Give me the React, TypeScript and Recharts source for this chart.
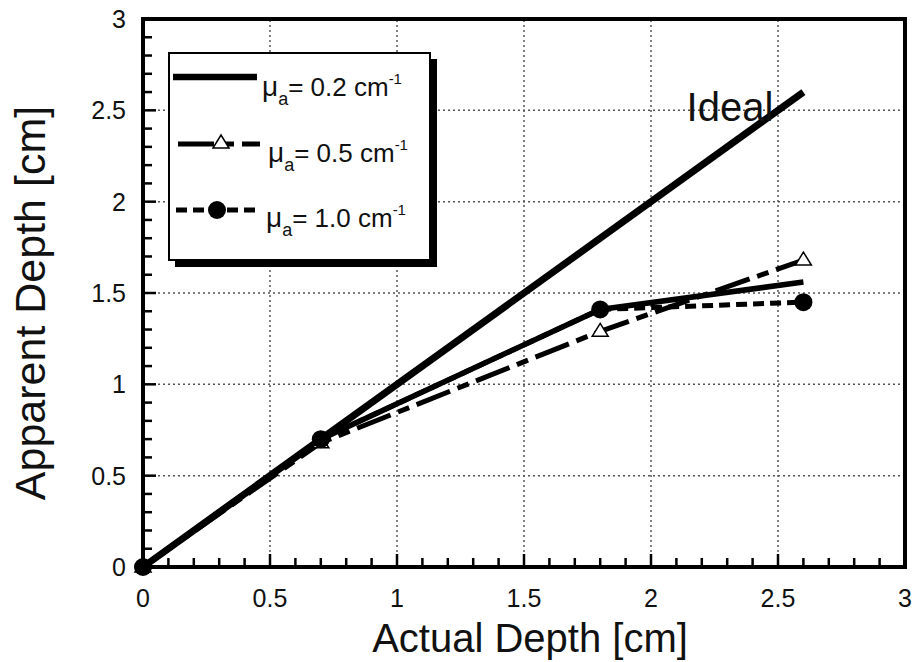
import { LineChart, Line, XAxis, YAxis, ReferenceLine, ReferenceDot, Legend, Label } from 'recharts';

const FONT = '"Liberation Sans", Arial, Helvetica, sans-serif';

// tick values (every 0.1 minor, labels on the 0.5 steps)
const minorTicks = [0, 0.1, 0.2, 0.3, 0.4, 0.5, 0.6, 0.7, 0.8, 0.9, 1, 1.1, 1.2, 1.3, 1.4, 1.5,
  1.6, 1.7, 1.8, 1.9, 2, 2.1, 2.2, 2.3, 2.4, 2.5, 2.6, 2.7, 2.8, 2.9, 3];
const majorTicks = [0, 0.5, 1, 1.5, 2, 2.5, 3];
const gridValues = [0.5, 1, 1.5, 2, 2.5];

// data
const idealX = [0, 2.6];
const idealY = [0, 2.6];
const actualDepth = [0, 0.7, 1.8, 2.6];
const apparent02 = [0, 0.7, 1.41, 1.56];
const apparent05 = [0, 0.68, 1.29, 1.68];
const apparent10 = [0, 0.7, 1.41, 1.45];

const zip = (xs: number[], ys: number[]) => xs.map((x, i) => ({ x, y: ys[i] }));
const idealData = zip(idealX, idealY);
const data02 = zip(actualDepth, apparent02);
const data05 = zip(actualDepth, apparent05);
const data10 = zip(actualDepth, apparent10);

const DASH_05 = '36 8 12 8';
const DASH_10 = '11 6';

const isMajor = (v: number) => majorTicks.some((m) => Math.abs(m - v) < 1e-6);

const BottomTick = (p: any) => {
  const v = p.payload.value;
  const major = isMajor(v);
  return (
    <g>
      <line x1={p.x} y1={p.y} x2={p.x} y2={p.y - (major ? 13 : 9)} stroke="#000" strokeWidth={2.5} />
      {major && (
        <text x={p.x} y={p.y + 40} textAnchor="middle" fontSize={25} fontFamily={FONT} fill="#111">
          {String(v)}
        </text>
      )}
    </g>
  );
};

const TopTick = (p: any) => {
  const major = isMajor(p.payload.value);
  return <line x1={p.x} y1={p.y} x2={p.x} y2={p.y + (major ? 13 : 9)} stroke="#000" strokeWidth={2.5} />;
};

const LeftTick = (p: any) => {
  const v = p.payload.value;
  const major = isMajor(v);
  return (
    <g>
      <line x1={p.x} y1={p.y} x2={p.x + (major ? 13 : 9)} y2={p.y} stroke="#000" strokeWidth={2.5} />
      {major && (
        <text x={p.x - 17} y={p.y} dy="0.36em" textAnchor="end" fontSize={25} fontFamily={FONT} fill="#111">
          {String(v)}
        </text>
      )}
    </g>
  );
};

const RightTick = (p: any) => {
  const major = isMajor(p.payload.value);
  return <line x1={p.x} y1={p.y} x2={p.x - (major ? 13 : 9)} y2={p.y} stroke="#000" strokeWidth={2.5} />;
};

const Triangle = (p: any) => (
  <polygon
    key={`t${p.index}`}
    points={`${p.cx},${p.cy - 8} ${p.cx + 8},${p.cy + 5} ${p.cx - 8},${p.cy + 5}`}
    fill="#fff"
    stroke="#000"
    strokeWidth={1.5}
  />
);

const Dot = (p: any) => <circle key={`c${p.index}`} cx={p.cx} cy={p.cy} r={9} fill="#000" />;

const LegendLabel = ({ x, y, value }: { x: number; y: number; value: string }) => (
  <text x={x} y={y} fontSize={26} fontFamily={FONT} fill="#111">
    <tspan fontSize={28}>μ</tspan>
    <tspan fontSize={18} dy={9}>a</tspan>
    <tspan dy={-9}>= {value} cm</tspan>
    <tspan fontSize={15} dy={-12}>-1</tspan>
  </text>
);

const LegendBox = () => (
  <svg width={272} height={218} style={{ display: 'block' }}>
    <rect x={7} y={7} width={262} height={208} fill="#000" />
    <rect x={1} y={1} width={261} height={207} fill="#fff" stroke="#000" strokeWidth={2} />
    <line x1={5} y1={25} x2={89} y2={25} stroke="#000" strokeWidth={6.5} />
    <LegendLabel x={94} y={44} value="0.2" />
    <line x1={10} y1={92} x2={92} y2={92} stroke="#000" strokeWidth={5} strokeDasharray={DASH_05} />
    <Triangle cx={53} cy={91} index={0} />
    <LegendLabel x={100} y={110} value="0.5" />
    <line x1={8} y1={158} x2={92} y2={158} stroke="#000" strokeWidth={5} strokeDasharray={DASH_10} />
    <Dot cx={49} cy={158} index={0} />
    <LegendLabel x={98} y={175} value="1.0" />
  </svg>
);

export default function App() {
  return (
    <div style={{ position: 'absolute', left: 0, top: 0, background: '#fff' }}>
      <LineChart width={922} height={662} margin={{ top: 0, right: 0, bottom: 0, left: 0 }}>
        <XAxis
          xAxisId={0}
          dataKey="x"
          type="number"
          domain={[0, 3]}
          ticks={minorTicks}
          interval={0}
          height={95}
          tickSize={0}
          tickMargin={0}
          tickLine={false}
          tick={BottomTick}
          axisLine={{ stroke: '#000', strokeWidth: 4, strokeLinecap: 'square' }}
        >
          <Label
            content={(lp: any) => (
              <text x={lp.viewBox.x + lp.viewBox.width / 2 + 6} y={lp.viewBox.y + 85} textAnchor="middle" fontSize={40} fontFamily={FONT} fill="#111">
                Actual Depth [cm]
              </text>
            )}
          />
        </XAxis>
        <XAxis
          xAxisId="top"
          orientation="top"
          dataKey="x"
          type="number"
          domain={[0, 3]}
          ticks={minorTicks}
          interval={0}
          height={19}
          tickSize={0}
          tickMargin={0}
          tickLine={false}
          tick={TopTick}
          axisLine={{ stroke: '#000', strokeWidth: 4, strokeLinecap: 'square' }}
        />
        <YAxis
          yAxisId={0}
          type="number"
          domain={[0, 3]}
          ticks={minorTicks}
          interval={0}
          width={143}
          tickSize={0}
          tickMargin={0}
          tickLine={false}
          tick={LeftTick}
          axisLine={{ stroke: '#000', strokeWidth: 4, strokeLinecap: 'square' }}
        >
          <Label
            content={(lp: any) => {
              const cy = lp.viewBox.y + lp.viewBox.height / 2 + 10;
              return (
                <text x={45} y={cy} transform={`rotate(-90, 45, ${cy})`} textAnchor="middle" fontSize={43} fontFamily={FONT} fill="#111">
                  Apparent Depth [cm]
                </text>
              );
            }}
          />
        </YAxis>
        <YAxis
          yAxisId="right"
          orientation="right"
          type="number"
          domain={[0, 3]}
          ticks={minorTicks}
          interval={0}
          width={17}
          tickSize={0}
          tickMargin={0}
          tickLine={false}
          tick={RightTick}
          axisLine={{ stroke: '#000', strokeWidth: 4, strokeLinecap: 'square' }}
        />

        {gridValues.map((v) => (
          <ReferenceLine key={`gx${v}`} x={v} stroke="#555" strokeWidth={1.5} strokeDasharray="2 3" />
        ))}
        {gridValues.map((v) => (
          <ReferenceLine key={`gy${v}`} y={v} stroke="#555" strokeWidth={1.5} strokeDasharray="2 3" />
        ))}

        <Line data={idealData} dataKey="y" stroke="#000" strokeWidth={7} dot={false} isAnimationActive={false} />
        <Line data={data02} dataKey="y" stroke="#000" strokeWidth={5.5} dot={false} isAnimationActive={false} />
        <Line data={data05} dataKey="y" stroke="#000" strokeWidth={5} strokeDasharray={DASH_05} dot={Triangle} isAnimationActive={false} />
        <Line data={data10} dataKey="y" stroke="#000" strokeWidth={5} strokeDasharray={DASH_10} dot={Dot} isAnimationActive={false} />

        <ReferenceDot
          x={2.14}
          y={2.44}
          r={0}
          fill="none"
          stroke="none"
          label={{
            content: (lp: any) => (
              <text x={lp.viewBox.x} y={lp.viewBox.y} fontSize={40} fontFamily={FONT} fill="#111">
                Ideal
              </text>
            ),
          }}
        />

        <Legend
          layout="vertical"
          align="center"
          verticalAlign="middle"
          content={LegendBox}
          wrapperStyle={{ left: 168, top: 52, width: 272, height: 218 }}
        />
      </LineChart>
    </div>
  );
}
